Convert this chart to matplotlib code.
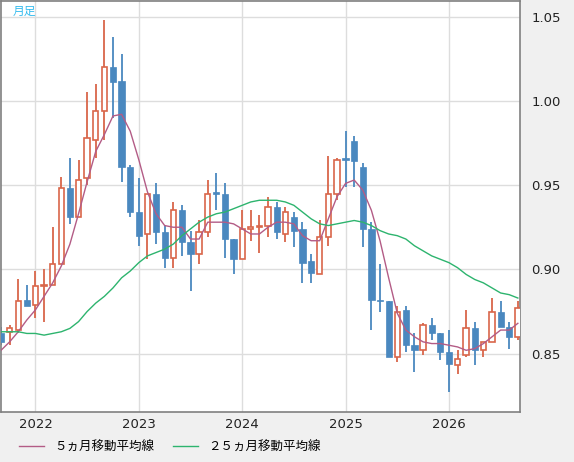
import matplotlib
matplotlib.use("Agg")
import matplotlib.pyplot as plt
import matplotlib.transforms as mtransforms
from matplotlib.lines import Line2D

plt.rcParams['font.family'] = ['DejaVu Sans', 'Noto Sans CJK JP']

# monthly candles, Sep 2021 .. Sep 2026
opens = [0.862, 0.863, 0.864, 0.882, 0.879, 0.890, 0.891, 0.903, 0.948, 0.931,
         0.954, 0.977, 0.994, 1.020, 1.012, 0.961, 0.934, 0.921, 0.945, 0.922,
         0.907, 0.935, 0.916, 0.909, 0.922, 0.946, 0.945, 0.918, 0.906, 0.924,
         0.925, 0.926, 0.937, 0.921, 0.931, 0.924, 0.905, 0.897, 0.919, 0.945,
         0.966, 0.976, 0.961, 0.924, 0.882, 0.881, 0.848, 0.876, 0.855, 0.852,
         0.867, 0.862, 0.851, 0.843, 0.849, 0.865, 0.852, 0.857, 0.875, 0.866,
         0.860]
highs = [0.866, 0.867, 0.894, 0.891, 0.899, 0.900, 0.925, 0.955, 0.966, 0.965,
         1.005, 1.010, 1.048, 1.038, 1.028, 0.962, 0.954, 0.945, 0.951, 0.926,
         0.940, 0.938, 0.923, 0.929, 0.953, 0.957, 0.951, 0.918, 0.935, 0.935,
         0.932, 0.943, 0.940, 0.937, 0.934, 0.928, 0.909, 0.929, 0.967, 0.966,
         0.982, 0.979, 0.963, 0.928, 0.903, 0.881, 0.878, 0.878, 0.862, 0.868,
         0.871, 0.862, 0.864, 0.852, 0.876, 0.869, 0.857, 0.883, 0.881, 0.869,
         0.881]
lows = [0.855, 0.855, 0.862, 0.878, 0.871, 0.869, 0.891, 0.903, 0.927, 0.931,
        0.950, 0.966, 0.977, 0.990, 0.952, 0.931, 0.914, 0.906, 0.915, 0.901,
        0.901, 0.908, 0.887, 0.903, 0.919, 0.935, 0.907, 0.897, 0.906, 0.917,
        0.910, 0.919, 0.918, 0.916, 0.913, 0.892, 0.892, 0.897, 0.914, 0.941,
        0.949, 0.949, 0.913, 0.864, 0.875, 0.848, 0.845, 0.851, 0.839, 0.849,
        0.858, 0.846, 0.827, 0.838, 0.848, 0.843, 0.848, 0.857, 0.866, 0.853,
        0.858]
closes = [0.857, 0.865, 0.881, 0.878, 0.890, 0.891, 0.903, 0.948, 0.931, 0.953,
          0.978, 0.994, 1.020, 1.011, 0.961, 0.934, 0.920, 0.945, 0.922, 0.907,
          0.935, 0.916, 0.909, 0.922, 0.945, 0.945, 0.918, 0.906, 0.924, 0.925,
          0.926, 0.937, 0.922, 0.934, 0.923, 0.904, 0.898, 0.919, 0.945, 0.965,
          0.965, 0.964, 0.924, 0.882, 0.881, 0.848, 0.875, 0.855, 0.852, 0.867,
          0.862, 0.851, 0.844, 0.847, 0.865, 0.852, 0.857, 0.875, 0.866, 0.860,
          0.877]
ma5 = [0.852, 0.857, 0.863, 0.870, 0.876, 0.884, 0.892, 0.902, 0.915, 0.933,
       0.952, 0.970, 0.980, 0.991, 0.992, 0.982, 0.965, 0.946, 0.933, 0.926,
       0.925, 0.925, 0.918, 0.918, 0.928, 0.928, 0.928, 0.927, 0.924, 0.921,
       0.921, 0.925, 0.928, 0.928, 0.927, 0.920, 0.917, 0.917, 0.930, 0.943,
       0.951, 0.953, 0.947, 0.935, 0.917, 0.895, 0.874, 0.864, 0.860, 0.857,
       0.856, 0.856, 0.855, 0.854, 0.852, 0.853, 0.856, 0.860, 0.864, 0.864,
       0.868]
ma25 = [0.863, 0.863, 0.863, 0.862, 0.862, 0.861, 0.862, 0.863, 0.865, 0.869,
        0.875, 0.880, 0.884, 0.889, 0.895, 0.899, 0.904, 0.908, 0.910, 0.912,
        0.915, 0.920, 0.924, 0.928, 0.931, 0.933, 0.934, 0.936, 0.938, 0.940,
        0.941, 0.941, 0.941, 0.940, 0.938, 0.934, 0.930, 0.927, 0.926, 0.927,
        0.928, 0.929, 0.928, 0.926, 0.923, 0.921, 0.920, 0.918, 0.914, 0.911,
        0.908, 0.906, 0.904, 0.901, 0.897, 0.894, 0.892, 0.889, 0.886, 0.885,
        0.883]
year_pos = [4, 16, 28, 40, 52]
year_labels = ['2022', '2023', '2024', '2025', '2026']
yticks = [0.85, 0.90, 0.95, 1.00, 1.05]

up_col = '#d9664a'
dn_col = '#4a88bf'

fig = plt.figure(figsize=(5.74, 4.62), dpi=100, facecolor='#f0f0f0')
ax = fig.add_axes([1 / 574, 1 - 412 / 462, 519 / 574, 411 / 462])
ax.set_facecolor('white')

for i in range(len(opens)):
    o, h, l, c = opens[i], highs[i], lows[i], closes[i]
    col = up_col if c >= o else dn_col
    ax.vlines(i, l, h, color=col, lw=1.3, zorder=2)
    lo, hi = min(o, c), max(o, c)
    if c >= o:
        ax.bar(i, max(hi - lo, 0.0006), bottom=lo, width=0.62, color='white',
               edgecolor=col, linewidth=1.2, zorder=3)
    else:
        ax.bar(i, max(hi - lo, 0.0008), bottom=lo, width=0.72, color=col,
               edgecolor=col, linewidth=0.5, zorder=3)

x = list(range(len(ma5)))
ax.plot(x, ma5, color='#b35c86', lw=1.0, zorder=4)
ax.plot(x, ma25, color='#2db46e', lw=1.0, zorder=4)

ax.set_xlim(0, 60.25)
ax.set_ylim(0.8154, 1.0592)
ax.set_xticks(year_pos)
ax.set_xticklabels(year_labels)
off = mtransforms.ScaledTranslation(8 / 100, 0, fig.dpi_scale_trans)
for lab in ax.get_xticklabels():
    lab.set_transform(lab.get_transform() + off)
ax.set_yticks(yticks)
ax.set_yticklabels([f'{v:.2f}' for v in yticks])
ax.yaxis.tick_right()
ax.tick_params(axis='both', length=0, labelsize=9.5, colors='#222222')
ax.tick_params(axis='y', pad=8)
ax.tick_params(axis='x', pad=4)
ax.grid(True, color='#dddddd', lw=1.0, zorder=0)
for s in ax.spines.values():
    s.set_color('#808080')
    s.set_linewidth(1.2)

ax.text(12 / 519, 1 - 10 / 411, '月足', transform=ax.transAxes, color='#33bbee',
        fontsize=8.5, va='center', ha='left', family=['Noto Sans CJK JP'])

handles = [Line2D([], [], color='#b35c86', lw=1.0),
           Line2D([], [], color='#2db46e', lw=1.0)]
fig.legend(handles, ['５ヵ月移動平均線', '２５ヵ月移動平均線'], loc='center left',
           bbox_to_anchor=(8 / 574, 1 - 447 / 462), ncol=2, frameon=False,
           prop={'family': ['Noto Sans CJK JP'], 'size': 9}, handlelength=2.0,
           columnspacing=1.5, handletextpad=0.8)

fig.savefig('out.png', dpi=100, facecolor=fig.get_facecolor())
